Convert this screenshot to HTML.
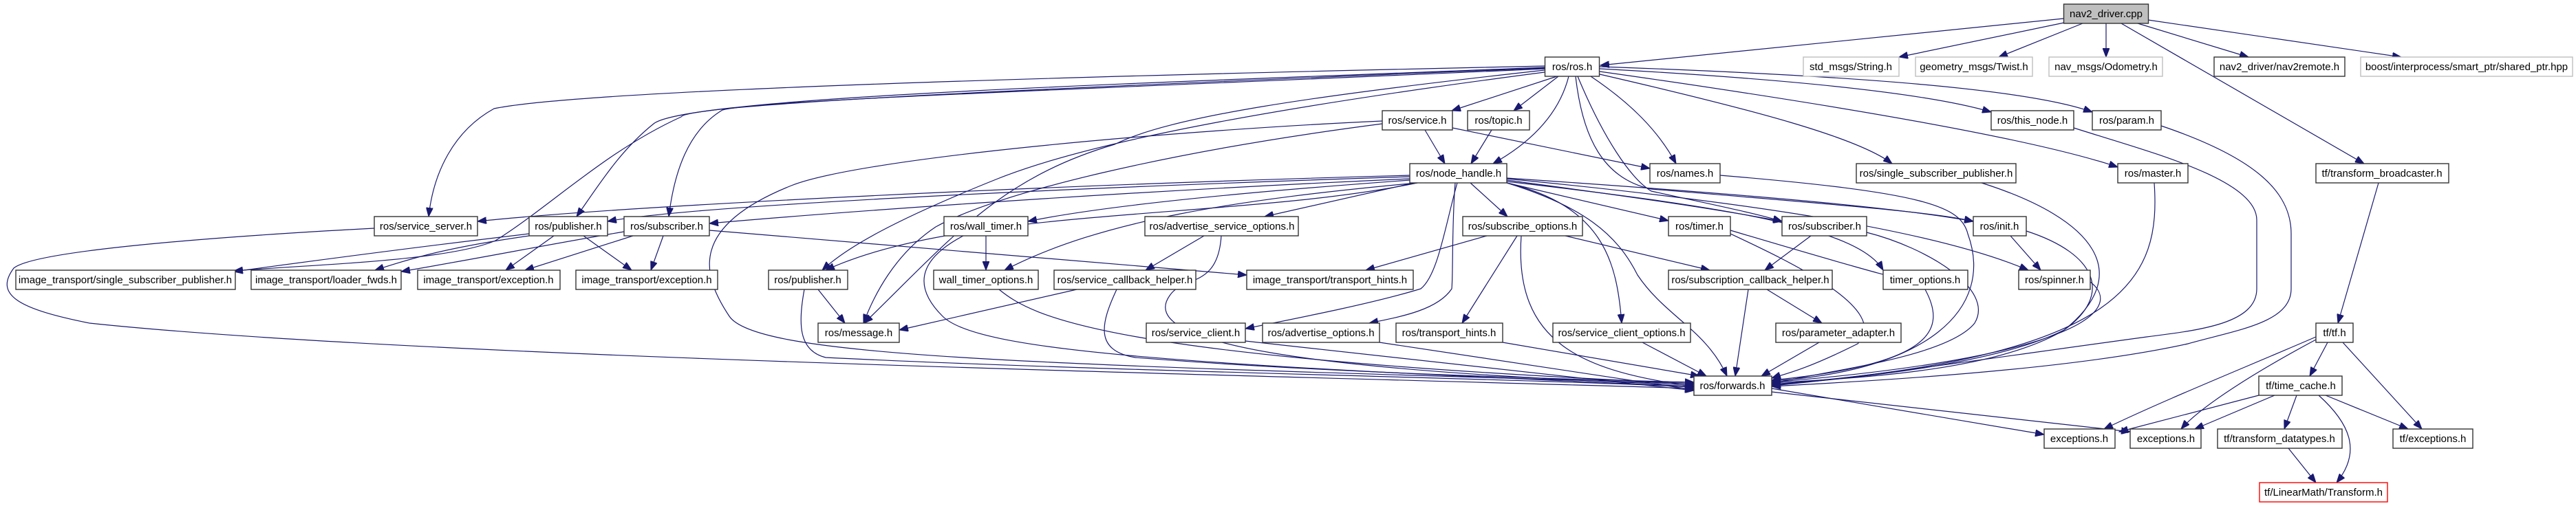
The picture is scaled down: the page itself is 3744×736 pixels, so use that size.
<!DOCTYPE html>
<html><head><meta charset="utf-8"><style>
html,body{margin:0;padding:0;background:#fff;}
svg{display:block;}
text{font-family:"Liberation Sans",sans-serif;font-size:15px;fill:#000;}
.n{fill:#fff;stroke:#333;stroke-width:1.4;}
.g{fill:#fff;stroke:#bfbfbf;stroke-width:1.4;}
.e path{fill:none;stroke:#191970;stroke-width:1.2;}
</style></head><body>
<svg width="3744" height="736" viewBox="0 0 3744 736" xmlns="http://www.w3.org/2000/svg">
<defs><marker id="a" markerUnits="userSpaceOnUse" markerWidth="14" markerHeight="10" refX="13" refY="5" orient="auto"><path d="M0,0 L13,5 L0,10 z" fill="#191970" stroke="#191970"/></marker></defs>
<g class="e" marker-end="url(#a)">
<!-- nav2_driver -->
<path d="M2999,27 L2326,95" marker-end="url(#a)"/>
<path d="M3000,33 L2760,83" marker-end="url(#a)"/>
<path d="M3027,34 L2905,83" marker-end="url(#a)"/>
<path d="M3061,34 L3061,83" marker-end="url(#a)"/>
<path d="M3107,34 L3268,83" marker-end="url(#a)"/>
<path d="M3122,29 L3490,83" marker-end="url(#a)"/>
<path d="M3083,34 L3436,238" marker-end="url(#a)"/>
<!-- ros.h -->
<path d="M2245,96 C1600,110 850,130 718,158 C660,190 630,250 623,315" marker-end="url(#a)"/>
<path d="M2245,98 C1700,120 1000,140 950,180 C900,220 870,270 838,315" marker-end="url(#a)"/>
<path d="M2245,99 C1600,125 1000,150 990,170 C880,220 800,300 720,350 C650,380 450,385 340,394" marker-end="url(#a)"/>
<path d="M2245,100 C1700,125 1100,145 1050,160 C1000,190 980,250 972,315" marker-end="url(#a)"/>
<path d="M2245,105 C1900,150 1600,200 1450,260 C1300,320 1230,360 1195,393" marker-end="url(#a)"/>
<path d="M2245,102 C1900,140 1700,170 1620,210 C1450,260 1380,350 1256,470" marker-end="url(#a)"/>
<path d="M2263,111 L2110,161" marker-end="url(#a)"/>
<path d="M2265,111 L2200,161" marker-end="url(#a)"/>
<path d="M2280,111 C2265,170 2220,210 2170,238" marker-end="url(#a)"/>
<path d="M2312,111 C2370,150 2410,190 2436,238" marker-end="url(#a)"/>
<path d="M2325,100 C2600,115 2800,135 2894,163" marker-end="url(#a)"/>
<path d="M2325,97 C2700,110 2950,130 3041,163" marker-end="url(#a)"/>
<path d="M2325,108 C2550,160 2700,200 2750,238" marker-end="url(#a)"/>
<path d="M2325,104 C2650,150 2950,200 3078,243" marker-end="url(#a)"/>
<path d="M2290,111 C2300,200 2330,260 2400,275 C2700,300 2820,310 2868,322" marker-end="url(#a)"/>
<path d="M2293,111 C2330,200 2370,260 2400,278 C2500,300 2550,310 2590,322" marker-end="url(#a)"/>
<!-- service/topic -->
<path d="M2071,189 L2100,238" marker-end="url(#a)"/>
<path d="M2168,189 L2138,238" marker-end="url(#a)"/>
<path d="M2111,186 L2398,245" marker-end="url(#a)"/>
<path d="M2009,176 C1700,190 1250,230 1150,270 C1000,330 1020,400 1060,460 C1100,520 1500,530 2462,558" marker-end="url(#a)"/>
<path d="M2009,180 C1700,220 1450,280 1360,330 C1300,370 1270,430 1255,470" marker-end="url(#a)"/>
<!-- node_handle -->
<path d="M2049,255 C1500,270 900,300 694,322" marker-end="url(#a)"/>
<path d="M2049,257 C1500,275 1000,300 883,322" marker-end="url(#a)"/>
<path d="M2049,260 C1600,280 1200,310 1031,325" marker-end="url(#a)"/>
<path d="M2049,262 C1800,280 1600,300 1494,322" marker-end="url(#a)"/>
<path d="M2055,266 L1838,315" marker-end="url(#a)"/>
<path d="M2137,266 L2191,315" marker-end="url(#a)"/>
<path d="M2190,266 L2425,321" marker-end="url(#a)"/>
<path d="M2190,262 C2400,290 2500,305 2590,322" marker-end="url(#a)"/>
<path d="M2190,259 C2500,280 2750,300 2868,322" marker-end="url(#a)"/>
<path d="M2190,264 C2500,300 2700,330 2737,393" marker-end="url(#a)"/>
<path d="M2190,260 C2500,290 2800,330 2948,393" marker-end="url(#a)"/>
<path d="M2060,266 C1800,320 1400,300 1200,393" marker-end="url(#a)"/>
<path d="M2060,266 C1800,290 1600,320 1460,393" marker-end="url(#a)"/>
<path d="M2118,266 C2100,330 2090,400 2065,420 C2000,440 1900,460 1810,478" marker-end="url(#a)"/>
<path d="M2115,266 C2110,330 2112,400 2110,420 C2090,450 2040,460 1990,470" marker-end="url(#a)"/>
<path d="M2190,266 C2330,300 2350,380 2357,470" marker-end="url(#a)"/>
<path d="M2190,266 C2300,300 2350,340 2380,400 C2420,460 2480,480 2510,547" marker-end="url(#a)"/>
<!-- row4 sources -->
<path d="M544,332 C300,345 50,365 20,390 C-10,430 30,450 130,470 C600,520 1800,545 2462,565" marker-end="url(#a)"/>
<path d="M769,340 C600,360 450,380 340,395" marker-end="url(#a)"/>
<path d="M769,343 C650,360 600,375 545,393" marker-end="url(#a)"/>
<path d="M805,343 L735,393" marker-end="url(#a)"/>
<path d="M848,343 L918,393" marker-end="url(#a)"/>
<path d="M907,337 C800,355 700,375 583,395" marker-end="url(#a)"/>
<path d="M920,343 L763,393" marker-end="url(#a)"/>
<path d="M964,343 L946,393" marker-end="url(#a)"/>
<path d="M1031,335 L1812,400" marker-end="url(#a)"/>
<path d="M1433,343 L1433,393" marker-end="url(#a)"/>
<path d="M1400,343 C1330,380 1330,420 1370,460 C1420,510 1700,530 2462,562" marker-end="url(#a)"/>
<path d="M1750,343 L1665,393" marker-end="url(#a)"/>
<path d="M1775,343 C1770,420 1720,400 1700,430 C1650,500 1900,540 2462,560" marker-end="url(#a)"/>
<path d="M2161,343 L1985,393" marker-end="url(#a)"/>
<path d="M2275,343 L2485,393" marker-end="url(#a)"/>
<path d="M2205,343 L2125,470" marker-end="url(#a)"/>
<path d="M2211,343 C2200,500 2300,540 2462,562" marker-end="url(#a)"/>
<path d="M2515,335 C2700,390 2740,400 2737,399" marker-end="url(#a)"/>
<path d="M2515,340 C2600,380 2750,450 2700,500 C2620,540 2590,545 2575,550" marker-end="url(#a)"/>
<path d="M2632,343 L2565,393" marker-end="url(#a)"/>
<path d="M2713,338 C2800,360 2900,420 2870,470 C2830,520 2650,540 2575,558" marker-end="url(#a)"/>
<path d="M2922,343 L2966,393" marker-end="url(#a)"/>
<path d="M2945,336 C3050,370 3070,430 3000,480 C2900,530 2700,550 2575,560" marker-end="url(#a)"/>
<!-- row5 sources -->
<path d="M1189,421 L1228,470" marker-end="url(#a)"/>
<path d="M1169,421 C1160,470 1160,510 1200,520 C1600,540 2200,550 2462,563" marker-end="url(#a)"/>
<path d="M1452,421 C1500,460 1600,520 2462,558" marker-end="url(#a)"/>
<path d="M1565,421 L1307,480" marker-end="url(#a)"/>
<path d="M1623,421 C1600,470 1590,510 1650,520 C1900,540 2200,550 2462,556" marker-end="url(#a)"/>
<path d="M2541,421 L2522,547" marker-end="url(#a)"/>
<path d="M2568,421 L2648,470" marker-end="url(#a)"/>
<path d="M2798,421 C2830,480 2810,530 2575,553" marker-end="url(#a)"/>
<path d="M3038,410 C3090,450 3020,520 2575,556" marker-end="url(#a)"/>
<!-- row3 sources -->
<path d="M2500,255 C2800,280 2850,300 2860,340 C2900,450 2800,540 2575,554" marker-end="url(#a)"/>
<path d="M2880,266 C3050,320 3100,400 3000,480 C2900,540 2700,550 2575,557" marker-end="url(#a)"/>
<path d="M3131,266 C3140,400 3100,520 2575,559" marker-end="url(#a)"/>
<path d="M3014,186 C3120,220 3280,260 3280,320 L3280,420 C3280,470 3200,480 3120,490 C2900,520 2700,550 2575,561" marker-end="url(#a)"/>
<path d="M3141,183 C3280,230 3330,280 3330,340 L3330,420 C3330,470 3250,480 3180,500 C3000,540 2700,555 2575,562" marker-end="url(#a)"/>
<!-- row6 sources -->
<path d="M1810,496 L2462,568" marker-end="url(#a)"/>
<path d="M2005,498 L2462,567" marker-end="url(#a)"/>
<path d="M2184,498 L2470,547" marker-end="url(#a)"/>
<path d="M2387,498 L2480,547" marker-end="url(#a)"/>
<path d="M2644,498 L2560,547" marker-end="url(#a)"/>
<!-- forwards -->
<path d="M2575,565 L2971,632" marker-end="url(#a)"/>
<path d="M2575,570 L3096,628" marker-end="url(#a)"/>
<!-- tf -->
<path d="M3457,266 L3398,470" marker-end="url(#a)"/>
<path d="M3366,490 C3250,540 3150,580 3058,624" marker-end="url(#a)"/>
<path d="M3366,494 C3280,540 3200,590 3170,624" marker-end="url(#a)"/>
<path d="M3383,498 L3357,547" marker-end="url(#a)"/>
<path d="M3405,498 L3520,624" marker-end="url(#a)"/>
<path d="M3283,575 L3080,628" marker-end="url(#a)"/>
<path d="M3306,575 L3190,624" marker-end="url(#a)"/>
<path d="M3338,575 L3320,624" marker-end="url(#a)"/>
<path d="M3380,575 L3500,624" marker-end="url(#a)"/>
<path d="M3370,575 C3420,620 3430,660 3396,702" marker-end="url(#a)"/>
<path d="M3326,652 L3366,702" marker-end="url(#a)"/>
</g>
<g>
<rect x="2999.5" y="6" width="123" height="28" fill="#bfbfbf" stroke="#333" stroke-width="1.4"/><text x="3061" y="25" text-anchor="middle">nav2_driver.cpp</text>
<rect class="g" x="2621" y="83" width="139" height="28"/><text x="2690" y="102" text-anchor="middle">std_msgs/String.h</text>
<rect class="g" x="2784" y="83" width="170" height="28"/><text x="2869" y="102" text-anchor="middle">geometry_msgs/Twist.h</text>
<rect class="g" x="2978" y="83" width="165" height="28"/><text x="3061" y="102" text-anchor="middle">nav_msgs/Odometry.h</text>
<rect class="n" x="3218" y="83" width="190" height="28"/><text x="3313" y="102" text-anchor="middle">nav2_driver/nav2remote.h</text>
<rect class="g" x="3431" y="83" width="308" height="28"/><text x="3585" y="102" text-anchor="middle">boost/interprocess/smart_ptr/shared_ptr.hpp</text>
<rect class="n" x="2245.5" y="83" width="79" height="28"/><text x="2285" y="102" text-anchor="middle">ros/ros.h</text>
<rect class="n" x="2009" y="161" width="102" height="28"/><text x="2060" y="180" text-anchor="middle">ros/service.h</text>
<rect class="n" x="2133" y="161" width="90" height="28"/><text x="2178" y="180" text-anchor="middle">ros/topic.h</text>
<rect class="n" x="2894" y="161" width="120" height="28"/><text x="2954" y="180" text-anchor="middle">ros/this_node.h</text>
<rect class="n" x="3041" y="161" width="100" height="28"/><text x="3091" y="180" text-anchor="middle">ros/param.h</text>
<rect class="n" x="2049" y="238" width="141" height="28"/><text x="2120" y="257" text-anchor="middle">ros/node_handle.h</text>
<rect class="n" x="2398" y="238" width="102" height="28"/><text x="2449" y="257" text-anchor="middle">ros/names.h</text>
<rect class="n" x="2698" y="238" width="232" height="28"/><text x="2814" y="257" text-anchor="middle">ros/single_subscriber_publisher.h</text>
<rect class="n" x="3078" y="238" width="102" height="28"/><text x="3129" y="257" text-anchor="middle">ros/master.h</text>
<rect class="n" x="3366" y="238" width="193" height="28"/><text x="3462" y="257" text-anchor="middle">tf/transform_broadcaster.h</text>
<rect class="n" x="544" y="315" width="150" height="28"/><text x="619" y="334" text-anchor="middle">ros/service_server.h</text>
<rect class="n" x="769" y="315" width="114" height="28"/><text x="826" y="334" text-anchor="middle">ros/publisher.h</text>
<rect class="n" x="907" y="315" width="124" height="28"/><text x="969" y="334" text-anchor="middle">ros/subscriber.h</text>
<rect class="n" x="1372" y="315" width="122" height="28"/><text x="1433" y="334" text-anchor="middle">ros/wall_timer.h</text>
<rect class="n" x="1664" y="315" width="223" height="28"/><text x="1776" y="334" text-anchor="middle">ros/advertise_service_options.h</text>
<rect class="n" x="2126" y="315" width="174" height="28"/><text x="2213" y="334" text-anchor="middle">ros/subscribe_options.h</text>
<rect class="n" x="2425" y="315" width="90" height="28"/><text x="2470" y="334" text-anchor="middle">ros/timer.h</text>
<rect class="n" x="2590" y="315" width="123" height="28"/><text x="2652" y="334" text-anchor="middle">ros/subscriber.h</text>
<rect class="n" x="2868" y="315" width="77" height="28"/><text x="2906" y="334" text-anchor="middle">ros/init.h</text>
<rect class="n" x="23" y="393" width="319" height="28"/><text x="182" y="412" text-anchor="middle">image_transport/single_subscriber_publisher.h</text>
<rect class="n" x="365" y="393" width="218" height="28"/><text x="474" y="412" text-anchor="middle">image_transport/loader_fwds.h</text>
<rect class="n" x="607" y="393" width="207" height="28"/><text x="710" y="412" text-anchor="middle">image_transport/exception.h</text>
<rect class="n" x="837" y="393" width="206" height="28"/><text x="940" y="412" text-anchor="middle">image_transport/exception.h</text>
<rect class="n" x="1117" y="393" width="115" height="28"/><text x="1174" y="412" text-anchor="middle">ros/publisher.h</text>
<rect class="n" x="1357" y="393" width="152" height="28"/><text x="1433" y="412" text-anchor="middle">wall_timer_options.h</text>
<rect class="n" x="1532" y="393" width="206" height="28"/><text x="1635" y="412" text-anchor="middle">ros/service_callback_helper.h</text>
<rect class="n" x="1812" y="393" width="242" height="28"/><text x="1933" y="412" text-anchor="middle">image_transport/transport_hints.h</text>
<rect class="n" x="2425" y="393" width="238" height="28"/><text x="2544" y="412" text-anchor="middle">ros/subscription_callback_helper.h</text>
<rect class="n" x="2737" y="393" width="123" height="28"/><text x="2798" y="412" text-anchor="middle">timer_options.h</text>
<rect class="n" x="2934" y="393" width="104" height="28"/><text x="2986" y="412" text-anchor="middle">ros/spinner.h</text>
<rect class="n" x="1189" y="470" width="118" height="28"/><text x="1248" y="489" text-anchor="middle">ros/message.h</text>
<rect class="n" x="1666" y="470" width="144" height="28"/><text x="1738" y="489" text-anchor="middle">ros/service_client.h</text>
<rect class="n" x="1835" y="470" width="170" height="28"/><text x="1920" y="489" text-anchor="middle">ros/advertise_options.h</text>
<rect class="n" x="2029" y="470" width="155" height="28"/><text x="2106" y="489" text-anchor="middle">ros/transport_hints.h</text>
<rect class="n" x="2257" y="470" width="200" height="28"/><text x="2357" y="489" text-anchor="middle">ros/service_client_options.h</text>
<rect class="n" x="2581" y="470" width="182" height="28"/><text x="2672" y="489" text-anchor="middle">ros/parameter_adapter.h</text>
<rect class="n" x="3366" y="470" width="54" height="28"/><text x="3393" y="489" text-anchor="middle">tf/tf.h</text>
<rect class="n" x="2462" y="547" width="113" height="28"/><text x="2518" y="566" text-anchor="middle">ros/forwards.h</text>
<rect class="n" x="3283" y="547" width="121" height="28"/><text x="3344" y="566" text-anchor="middle">tf/time_cache.h</text>
<rect class="n" x="2971" y="624" width="103" height="28"/><text x="3022" y="643" text-anchor="middle">exceptions.h</text>
<rect class="n" x="3096" y="624" width="103" height="28"/><text x="3148" y="643" text-anchor="middle">exceptions.h</text>
<rect class="n" x="3223" y="624" width="181" height="28"/><text x="3313" y="643" text-anchor="middle">tf/transform_datatypes.h</text>
<rect class="n" x="3478" y="624" width="116" height="28"/><text x="3536" y="643" text-anchor="middle">tf/exceptions.h</text>
<rect x="3284" y="702" width="186" height="28" fill="#fff" stroke="#ff0000" stroke-width="1.4"/><text x="3377" y="721" text-anchor="middle">tf/LinearMath/Transform.h</text>
</g>
</svg>
</body></html>
